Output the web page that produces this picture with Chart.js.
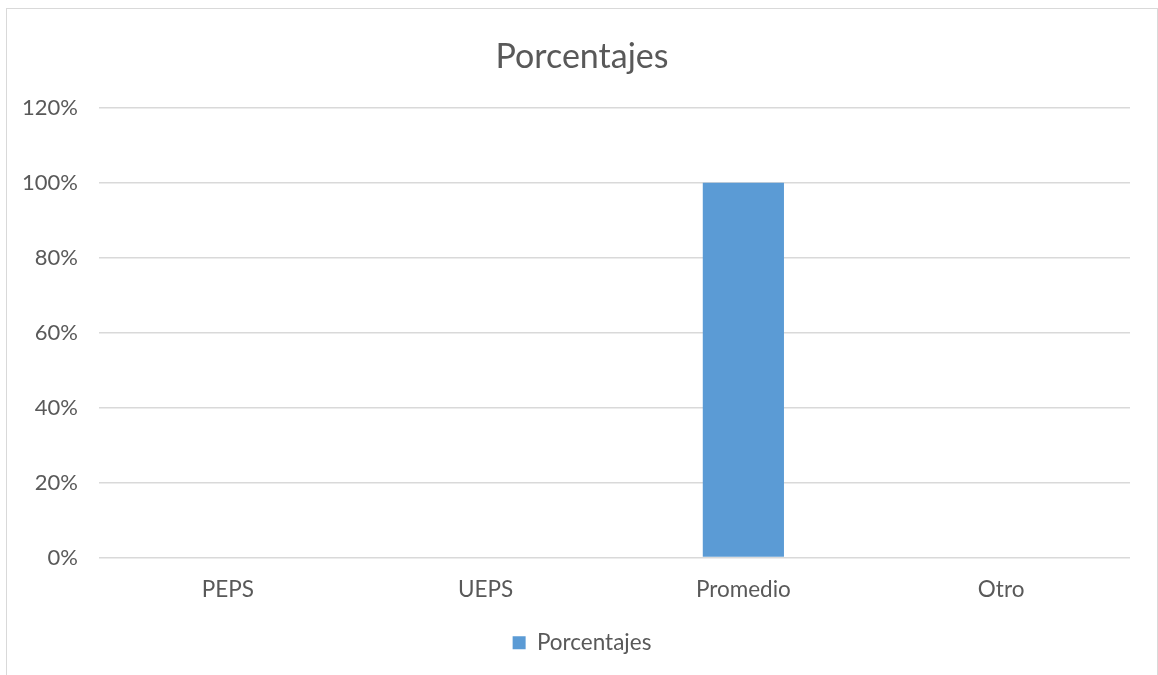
<!DOCTYPE html>
<html>
<head>
<meta charset="utf-8">
<script src="https://cdn.jsdelivr.net/npm/chart.js@4"></script>
<style>
  body { margin: 0; background: #fff; }
  .chartBox { position: absolute; left: 6px; top: 8px; width: 1150px; height: 670px; border: 1px solid #d9d9d9; }
  canvas { display: block; }
</style>
</head>
<body>
<div class="chartBox"><canvas id="chart" width="1150" height="670"></canvas></div>
<script>
let categories = ['PEPS', 'UEPS', 'Promedio', 'Otro'];
let porcentajes = [0, 0, 100, 0];
let seriesName = 'Porcentajes';
let titleText = 'Porcentajes';

let textColor = '#595959';
let fontFamily = 'Lato, "Open Sans", sans-serif';

let ctx = document.getElementById('chart');
let chart = new Chart(ctx, {
    type: 'bar',
    data: {
        labels: categories,
        datasets: [{
            label: seriesName,
            data: porcentajes,
            backgroundColor: '#5b9bd5',
            borderWidth: 0,
            barPercentage: 0.315,
            categoryPercentage: 1
        }]
    },
    options: {
        responsive: false,
        animation: false,
        layout: { padding: { left: 0, right: 0, top: 0, bottom: 15 } },
        plugins: {
            title: {
                display: true,
                text: titleText,
                color: textColor,
                font: { family: fontFamily, size: 34, weight: 'normal' },
                padding: { top: 28, bottom: 30 }
            },
            legend: {
                position: 'bottom',
                labels: {
                    color: textColor,
                    font: { family: fontFamily, size: 22.5 },
                    boxWidth: 13,
                    boxHeight: 13,
                    padding: 17
                }
            },
            tooltip: { enabled: false }
        },
        scales: {
            x: {
                grid: { display: false },
                border: { display: false },
                ticks: {
                    color: textColor,
                    font: { family: fontFamily, size: 22.5 },
                    padding: 11
                }
            },
            y: {
                min: 0,
                max: 120,
                ticks: {
                    stepSize: 20,
                    color: textColor,
                    font: { family: fontFamily, size: 22 },
                    padding: 21,
                    callback: function (v) { return v + '%'; }
                },
                grid: { color: '#d9d9d9', lineWidth: 1.5, drawTicks: false },
                border: { display: false },
                afterFit: function (scale) { scale.width = 92; }
            },
            // empty right axis, only keeps the right margin so title and legend stay centred
            yRight: {
                position: 'right',
                grid: { display: false },
                border: { display: false },
                ticks: { display: false },
                afterFit: function (scale) { scale.width = 27; }
            }
        }
    }
});
</script>
</body>
</html>
